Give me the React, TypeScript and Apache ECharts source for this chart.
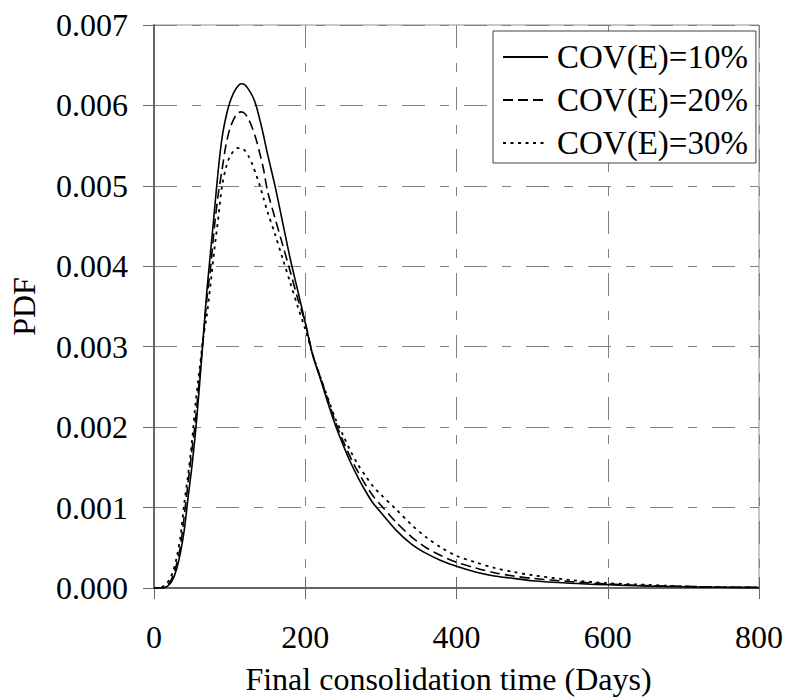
import React, { useEffect, useRef } from "react";
import * as echarts from "echarts";

const xDays = [0, 10, 15, 20, 25, 30, 35, 40, 45, 50, 55, 60, 65, 70, 75, 80, 85, 90, 95, 100, 105, 110, 115, 120, 125, 130, 135, 140, 145, 150, 160, 170, 180, 190, 200, 210, 220, 230, 240, 250, 260, 270, 280, 290, 300, 320, 340, 360, 380, 400, 425, 450, 475, 500, 550, 600, 650, 700, 750, 800];

const pdf10 = [0, 0, 0.00001, 0.00004, 0.00011, 0.00024, 0.00044, 0.00072, 0.00112, 0.0015, 0.00195, 0.0025, 0.0031, 0.0037, 0.0042, 0.0047, 0.0052, 0.0056, 0.00585, 0.00603, 0.00615, 0.00623, 0.00627, 0.00626, 0.0062, 0.00612, 0.006, 0.00582, 0.00562, 0.0054, 0.005, 0.00455, 0.0041, 0.0037, 0.0033, 0.00289, 0.0026, 0.0023, 0.00202, 0.00178, 0.00156, 0.00137, 0.0012, 0.00105, 0.00094, 0.00072, 0.00055, 0.00043, 0.00034, 0.00027, 0.0002, 0.00015, 0.00012, 0.00009, 0.00006, 0.00004, 0.000025, 0.000015, 0.00001, 0.000005];

const pdf20 = [0, 0, 0.00002, 0.00006, 0.00015, 0.0003, 0.00052, 0.0009, 0.0013, 0.0017, 0.0021, 0.0026, 0.0031, 0.0036, 0.004, 0.0045, 0.0049, 0.0052, 0.0055, 0.0057, 0.00582, 0.0059, 0.00592, 0.0059, 0.00583, 0.00572, 0.00558, 0.0054, 0.0052, 0.00494, 0.0046, 0.00427, 0.00394, 0.0036, 0.0033, 0.0029, 0.00262, 0.00234, 0.00206, 0.00183, 0.00162, 0.00144, 0.00128, 0.00114, 0.00103, 0.00082, 0.00064, 0.0005, 0.0004, 0.00032, 0.00025, 0.00019, 0.00015, 0.00012, 0.00008, 0.00005, 0.00003, 0.00002, 0.00001, 0.000007];

const pdf30 = [0, 0.00001, 0.00004, 0.0001, 0.0002, 0.00038, 0.00064, 0.00105, 0.0014, 0.0018, 0.0023, 0.0027, 0.0031, 0.0034, 0.0038, 0.00422, 0.0046, 0.005, 0.00522, 0.00536, 0.00543, 0.00547, 0.00547, 0.00544, 0.00537, 0.00527, 0.00514, 0.005, 0.00484, 0.00468, 0.0044, 0.0041, 0.0038, 0.0035, 0.00322, 0.0029, 0.00262, 0.00236, 0.0021, 0.0019, 0.0017, 0.00153, 0.00139, 0.00126, 0.00116, 0.00098, 0.00079, 0.00063, 0.0005, 0.0004, 0.00032, 0.00025, 0.0002, 0.00016, 0.0001, 0.00006, 0.00004, 0.00002, 0.00001, 0.000008];

const seriesNames = ["COV(E)=10%", "COV(E)=20%", "COV(E)=30%"];
const xTicks = [0, 800, 200];
const yTicks = [0, 0.007, 0.001];

const FONT = "Liberation Serif";

export default function App() {
  const ref = useRef<HTMLDivElement>(null);
  useEffect(() => {
    if (!ref.current) return;
    const chart = echarts.init(ref.current, null, { renderer: "svg" });
    const pair = (ys: number[]) => xDays.map((x, i) => [x, ys[i]]);
    const gridDash = [23, 15, 9, 15];
    const axisColor = "#666666";
    const styles = [
      { type: "solid" as any, width: 1.6 },
      { type: [10, 5], width: 1.6 },
      { type: [3, 4.5], width: 1.8 },
    ];
    const datas = [pdf10, pdf20, pdf30];
    chart.setOption({
      animation: false,
      backgroundColor: "#ffffff",
      textStyle: { fontFamily: FONT },
      grid: {
        left: 154,
        right: 29,
        top: 25,
        bottom: 111,
        show: true,
        borderColor: "#909090",
        borderWidth: 1,
      },
      legend: {
        orient: "vertical",
        left: 493,
        top: 31,
        padding: [9, 8, 3, 9],
        itemWidth: 45,
        itemHeight: 14,
        itemGap: 9,
        backgroundColor: "#ffffff",
        borderColor: "#404040",
        borderWidth: 1,
        borderRadius: 0,
        data: seriesNames,
        itemStyle: { opacity: 0 },
        textStyle: {
          fontFamily: FONT,
          fontSize: 33,
          color: "#000",
          lineHeight: 34,
          padding: [0, 0, 0, 4],
        },
      },
      xAxis: [
        {
          type: "value",
          min: xTicks[0],
          max: xTicks[1],
          interval: xTicks[2],
          position: "bottom",
          name: "Final consolidation time (Days)",
          nameLocation: "middle",
          nameGap: 75,
          nameTextStyle: { fontFamily: FONT, fontSize: 32, color: "#000", padding: [0, 16, 0, 0] },
          axisLine: { show: true, onZero: false, lineStyle: { color: axisColor, width: 2 } },
          axisTick: { show: true, length: 11, lineStyle: { color: axisColor, width: 1 } },
          axisLabel: { fontFamily: FONT, fontSize: 32, color: "#000", margin: 33 },
          splitLine: { show: true, lineStyle: { color: "#808080", width: 1, type: gridDash } },
        },
        {
          type: "value",
          min: xTicks[0],
          max: xTicks[1],
          interval: xTicks[2],
          position: "bottom",
          axisLine: { show: false },
          axisTick: { show: true, inside: true, length: 11, lineStyle: { color: axisColor, width: 1 } },
          axisLabel: { show: false },
          splitLine: { show: false },
        },
      ],
      yAxis: [
        {
          type: "value",
          min: yTicks[0],
          max: yTicks[1],
          interval: yTicks[2],
          position: "left",
          name: "PDF",
          nameLocation: "middle",
          nameGap: 114,
          nameTextStyle: { fontFamily: FONT, fontSize: 32, color: "#000" },
          axisLine: { show: true, onZero: false, lineStyle: { color: axisColor, width: 2 } },
          axisTick: { show: true, length: 11, lineStyle: { color: axisColor, width: 1 } },
          axisLabel: {
            fontFamily: FONT,
            fontSize: 32,
            color: "#000",
            margin: 26,
            formatter: (v: number) => v.toFixed(3),
          },
          splitLine: { show: true, lineStyle: { color: "#808080", width: 1, type: gridDash } },
        },
      ],
      series: seriesNames.map((name, i) => ({
        name,
        type: "line",
        xAxisIndex: 0,
        yAxisIndex: 0,
        data: pair(datas[i]),
        symbol: "none",
        showSymbol: false,
        smooth: 0.3,
        z: 5 - i,
        lineStyle: { color: "#000000", width: styles[i].width, type: styles[i].type },
        itemStyle: { color: "#000000" },
      })),
    });
    return () => chart.dispose();
  }, []);
  return (
    <div
      ref={ref}
      style={{ position: "fixed", left: 0, top: 0, width: 788, height: 700, background: "#fff" }}
    />
  );
}
